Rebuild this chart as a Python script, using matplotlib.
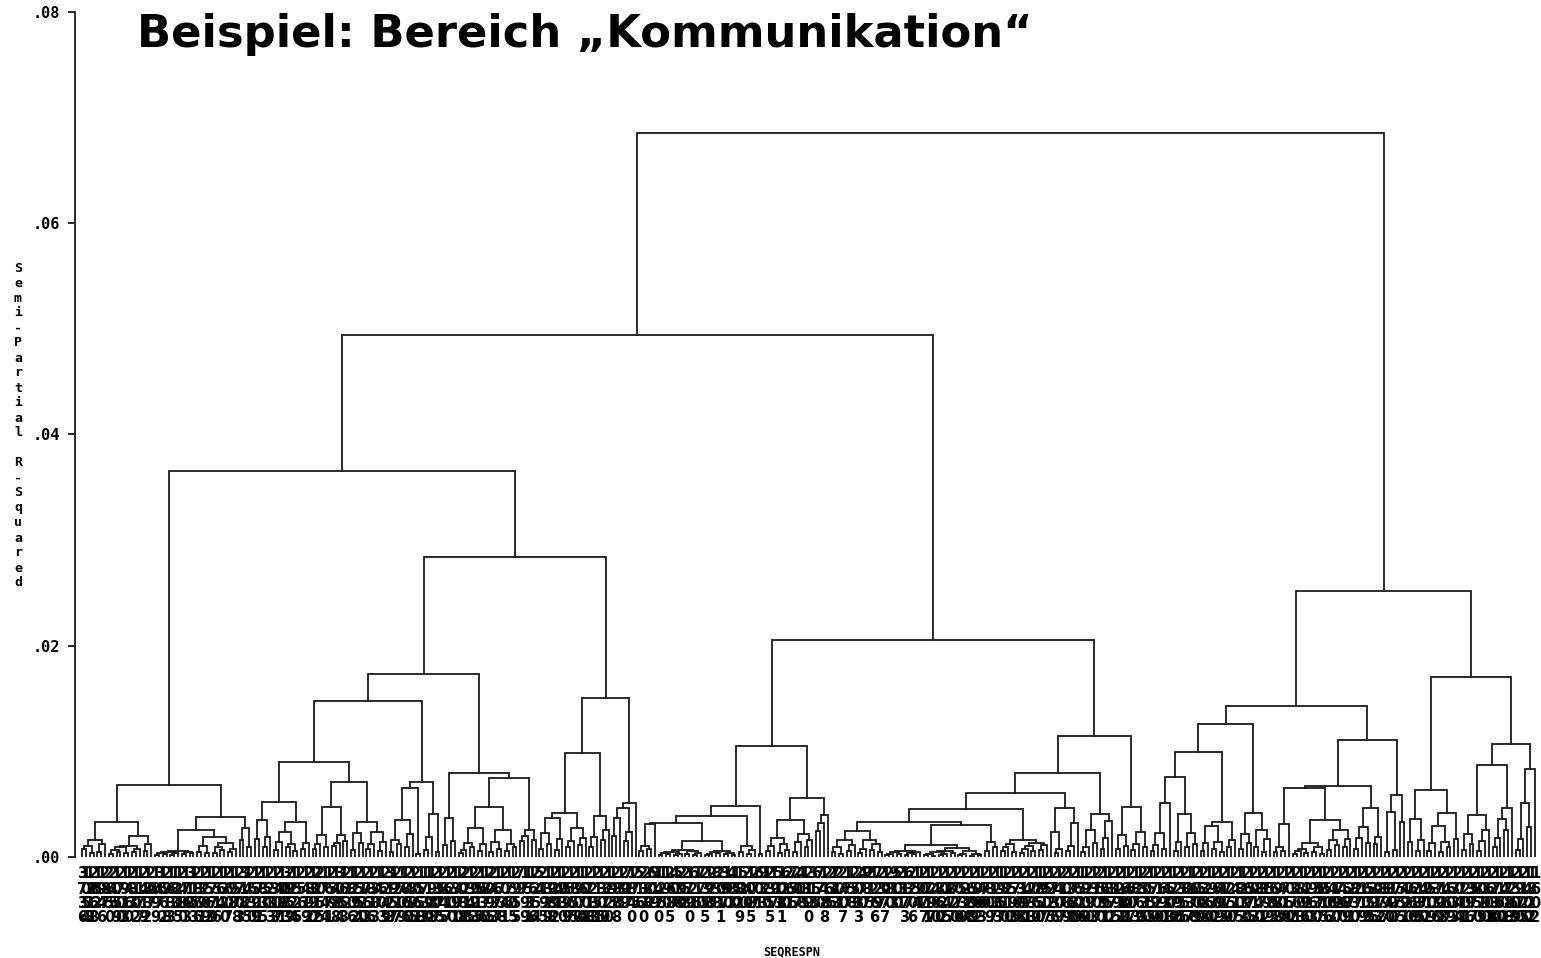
import matplotlib
matplotlib.use("Agg")
import matplotlib.pyplot as plt
from matplotlib.collections import LineCollection
from matplotlib import transforms

# ---------------- data: dendrogram (heights in units of 0.001 semi-partial R^2) ----------------
# notation: x = leaf, (left,right)h = merge at height h
A1 = "((((x,x)0.8,(x,x)0.4)1.0,((x,x)0.5,x)1.2)1.6,(((((x,x)0.3,(x,x)0.5)0.7,(x,x)0.4)0.9,((x,x)0.5,x)0.8)1.0,((x,x)0.6,x)1.2)2.0)3.3"
A2a = "(((((x,x)0.2,(x,x)0.3)0.4,((x,x)0.2,x)0.35)0.5,((x,x)0.3,(x,x)0.4)0.45)0.57,(((x,x)0.5,(x,x)0.4)1.0,(((x,x)0.4,(x,x)0.7)0.9,((x,x)0.5,x)0.8)1.3)1.9)2.6"
A2b = "((x,x)1.6,(x,x)0.9)2.7"

B1a_52 = "(((x,x)1.7,((x,x)0.9,x)1.9)3.5,((((x,x)0.7,x)1.4,((x,x)0.9,(x,x)0.6)1.2)2.4,((x,x)0.8,x)1.3)3.3)5.2"
B1a_71 = "(((((x,x)0.8,x)1.2,(x,x)0.9)2.1,(((x,x)1.0,x)1.3,(x,x)1.5)2.1)4.7,(((x,x)0.7,(x,x)1.3)2.3,(((x,x)0.8,x)1.2,((x,x)0.6,x)1.4)2.4)3.3)7.1"
B1a_r = "(((((x,x)0.5,(x,x)1.2)1.6,((x,x)0.9,x)2.2)3.5,(x,x)0.3)6.5,(((x,x)0.7,x)1.9,(x,x)0.5)4.1)7.1"
B1b = "(((x,x)1.1,(x,x)1.5)3.7,((((((x,x)0.4,x)0.7,(x,x)0.9)1.3,((x,x)0.6,x)1.2)2.7,(((x,x)0.5,(x,x)0.8)1.4,((x,x)0.6,(x,x)0.9)1.2)2.6)4.7,(((x,x)1.5,x)2.0,(x,x)1.6)2.6)7.5)8.0"
B2 = ("((((((x,x)0.8,(x,x)1.2)2.3,((x,x)0.7,x)1.7)3.7,(((x,x)0.9,x)1.5,((x,x)1.1,x)1.8)2.7)4.2,"
      "(((x,x)0.9,x)1.9,((x,x)1.6,x)2.6)3.9)9.8,((((x,x)2.0,x)3.7,((x,x)1.5,x)2.4)4.6,x)5.1)15.1")

LR_48 = ("((((((x,x)0.6,(x,x)0.8)1.0,x)3.1,(((((x,x)0.2,(x,x)0.3)0.4,((x,x)0.2,x)0.3)0.5,((x,x)0.3,((x,x)0.2,x)0.4)0.6)0.7,"
         "((((x,x)0.2,x)0.3,(x,x)0.4)0.5,((x,x)0.3,(x,x)0.2)0.4)0.6)1.5)3.2,((x,x)0.5,((x,x)0.3,x)0.7)1.0)3.9,(x,x)0.3)4.8")
LR_56 = "(((((x,x)0.6,x)1.0,((x,x)0.4,(x,x)0.7)1.2)1.8,(((x,x)0.5,x)1.4,((x,x)0.9,x)1.6)2.2)3.5,(((x,x)2.5,x)3.2,x)4.0)5.6"
LR_25 = "((((x,x)0.5,(x,x)0.3)0.9,((x,x)0.6,x)1.1)1.6,(((x,x)0.4,x)0.8,((x,x)0.7,(x,x)0.5)1.2)1.6)2.5"
LR_115 = ("(((((x,x)0.2,x)0.3,(x,x)0.3)0.45,(((x,x)0.2,(x,x)0.3)0.4,x)0.5)0.6,"
          "(((((x,x)0.2,(x,x)0.1)0.3,((x,x)0.2,x)0.3)0.45,(x,x)0.4)0.6,(((x,x)0.2,x)0.3,((x,x)0.1,(x,x)0.2)0.3)0.55)0.85)1.15")
LR_16 = "((((x,x)0.6,x)0.9,(x,x)0.5)1.2,((((x,x)0.4,x)0.8,(x,x)0.6)1.0,((x,x)0.7,x)1.1)1.3)1.6"
LR_46 = "((x,((x,x)0.4,x)0.8)2.4,(((x,x)0.6,x)1.0,x)3.2)4.6"
LR_41 = "((((x,x)0.5,x)0.9,(x,x)1.3)2.6,(((x,x)0.8,x)1.8,x)3.4)4.1"
LR_47 = "(((x,x)0.8,(x,x)1.0)2.1,(((x,x)0.7,x)1.2,(x,x)0.9)2.4)4.7"

R1_99 = "(((((x,x)0.6,x)1.1,(x,x)0.8)2.3,x)5.1,(((x,x)0.6,x)1.4,((x,x)0.9,(x,x)1.2)2.3)4.1)7.6"
R1_33 = "((((x,x)0.6,x)1.3,((x,x)0.8,(x,x)0.5)1.4)2.9,((x,x)0.9,x)1.6)3.3"
R1_42 = "(((x,x)0.8,(x,x)1.3)2.2,((x,x)0.9,((x,x)0.5,x)1.7)2.6)4.2"
R1_65 = ("((((x,x)0.5,(x,x)0.6)0.9,x)3.1,(((((x,x)0.3,x)0.6,(x,x)0.4)0.8,((x,x)0.5,(x,x)0.3)0.9)1.3,"
         "(((x,x)0.7,(x,x)1.1)1.6,((x,x)0.9,x)1.7)2.6)3.5)6.5")
R1_46 = "((((x,x)0.8,x)1.8,(x,x)1.3)2.8,((x,x)1.2,x)1.9)4.6"
R1_59 = "(((x,x)0.5,(x,x)0.7)4.3,(x,x)3.3)5.9"
R2_63 = "(((x,x)1.4,((x,x)0.6,x)1.6)3.6,((((x,x)0.6,x)1.3,((x,x)0.5,(x,x)0.9)1.4)2.9,(x,x)1.7)4.2)6.3"
R2_87 = "((((x,x)0.7,(x,x)1.2)2.2,(((x,x)0.6,x)1.5,x)2.6)4.0,((((x,x)0.9,x)1.8,(x,x)2.6)3.6,x)4.6)8.7"
R2_83 = "((((x,x)0.7,x)1.7,(x,x)2.8)5.1,x)8.3"

cluster_A = f"({A1},({A2a},{A2b})3.8)6.8"
cluster_B = f"(((({B1a_52},{B1a_71})9.0,{B1a_r})14.8,{B1b})17.3,{B2})28.4"
cluster_LR = (f"(({LR_48},{LR_56})10.5,((((({LR_25},({LR_115},((x,x)0.6,(x,x)0.9)1.4)3.0)3.3,{LR_16})4.5,"
              f"{LR_46})6.1,{LR_41})8.0,{LR_47})11.5)20.5")
cluster_R = f"(((({R1_99},{R1_33})9.9,{R1_42})12.6,(({R1_65},{R1_46})6.7,{R1_59})11.1)14.3,({R2_63},({R2_87},{R2_83})10.7)17.0)25.2"
tree_text = f"((({cluster_A},{cluster_B})36.5,{cluster_LR})49.4,{cluster_R})68.5"

leaf_ids = """
3736 1054 1318 2868 152 1946 287 2650 245 1059 2700 1913 1460 283 1102 1177 2419 1832 207 1099
347 1562 2918 1633 183 1215 2480 1763 318 1153 2866 1391 2209 1563 1779 2516 164 1320 2607 198
1578 2703 318 1425 2630 1599 2711 1835 150 2233 1313 2417 1081 3083 2959 1224 1525 256 1419 2892
1390 2212 2055 1744 1671 259 1488 3034 1653 212 1806 1292 2554 1120 2763 1836 2383 147 1603 2249
3128 1957 2217 1709 1866 2450 1395 2061 1558 1733 1190 1988 2307 1575 2845 1617 2200 1391 1470 2088
2218 1345 2993 2515 1536 1870 2095 2433 1677 1738 2041 175 1505 2955 79 1799 1531 1616 2254 54
2195 1329 1988 2292 141 1930 2599 1567 2855 1900 1670 1008 2718 1233 2151 1305 2370 1220 195 2888
135 299 727 1840 275 516 2330 288 602 919 1470 125 190 2685 407 538 290 258 1790 621
115 770 2355 198 225 838 2011 397 190 483 150 1829 520 240 1085 277 601 933 120 2355
197 513 1081 620 261 755 207 408 135 2190 313 655 770 1488 265 235 713 201 2407 177
158 253 2033 470 987 215 1266 729 237 1077 280 913 500 231 1173 637 2206 154 191 2077
1711 1297 2400 1860 2022 1345 2877 1720 2070 1530 2214 1688 2599 1902 1403 270 1809 2137 1233 1957
1810 2210 1593 2765 1308 2190 1471 2233 1060 1850 1917 2507 1225 2736 1409 2177 2089 1368 2780 1609
1526 1900 2290 1373 2107 2530 1691 1850 2372 1195 2233 1688 1401 2507 1873 1269 2335 2010 1555 1790
2120 1690 2431 1503 1770 2290 1355 2855 1237 1678 2009 1509 2388 1260 1930 2602 1499 2115 1770 1250
2417 1805 1233 2690 1575 2013 1840 2371 1192 2589 1655 1988 2409 1710 2050 1372 2261 1803 1496 2220
1963 2330 1577 1815 2506 1403 2190 1727 2460 1589 2271 1830 1277 2119 1609 2555 1395 2013 1872 2397
1340 2190 1777 2555 1491 2020 1660 2289 1135 2470 1912 1509 2336 1799 2128 1467 2609 1333 2044 1711
2201 1396 2577 1850 1019 2390 1603 2238 1730 1150 2402 1788 1263 2509 1970 2125 1400 1822 1602 2302
""".split()

y_ticks = [0.0, 0.02, 0.04, 0.06, 0.08]
y_tick_labels = [".00", ".02", ".04", ".06", ".08"]
title_text = "Beispiel: Bereich \u201eKommunikation\u201c"
y_label_text = "Semi-Partial R-Squared"
x_label_text = "SEQRESPN"


# ---------------- parse + layout ----------------
def parse(s):
    s = "".join(s.split())
    pos = 0

    def node():
        nonlocal pos
        if s[pos] == "x":
            pos += 1
            return None
        assert s[pos] == "(", (pos, s[pos - 10:pos + 10])
        pos += 1
        a = node()
        assert s[pos] == ",", (pos, s[pos - 10:pos + 10])
        pos += 1
        b = node()
        assert s[pos] == ")", (pos, s[pos - 10:pos + 10])
        pos += 1
        st = pos
        while pos < len(s) and (s[pos].isdigit() or s[pos] == "."):
            pos += 1
        return (float(s[st:pos]) * 1e-3, a, b)

    return node()


tree = parse(tree_text)
segments = []
counter = [0]


def layout(t):
    if t is None:
        x = counter[0]
        counter[0] += 1
        return x, 0.0
    h, a, b = t
    xa, ya = layout(a)
    xb, yb = layout(b)
    segments.append([(xa, ya), (xa, h), (xb, h), (xb, yb)])
    return (xa + xb) / 2.0, h


layout(tree)
N = counter[0]

# ---------------- figure ----------------
W, H = 1541, 958
fig = plt.figure(figsize=(W / 100, H / 100), dpi=100)
ax_left, ax_right, ax_top, ax_bot = 75, 1541, 12, 857
ax = fig.add_axes([ax_left / W, 1 - ax_bot / H, (ax_right - ax_left) / W, (ax_bot - ax_top) / H])

first_px, last_px = 82, 1535
pitch = (last_px - first_px) / (N - 1)
ax.set_xlim((ax_left - first_px) / pitch, (ax_right - first_px) / pitch)
ax.set_ylim(0, 0.08)

lc = LineCollection(segments, colors="#1a1a1a", linewidths=1.3, capstyle="projecting", joinstyle="miter")
ax.add_collection(lc)

for sp in ["top", "right", "bottom"]:
    ax.spines[sp].set_visible(False)
ax.spines["left"].set_linewidth(1.3)
ax.spines["left"].set_color("#1a1a1a")
ax.set_xticks([])
ax.set_yticks(y_ticks)
ax.set_yticklabels(y_tick_labels, fontfamily="DejaVu Sans Mono", fontweight="bold", fontsize=11)
ax.tick_params(axis="y", direction="out", length=5, width=1.3, color="#1a1a1a", pad=6)

mono = dict(fontfamily="DejaVu Sans Mono", fontweight="bold", color="black")

# leaf labels: each id written vertically, one digit per row
trans = transforms.blended_transform_factory(ax.transData, fig.transFigure)
row_px = [874, 889, 904, 918]
for i in range(N):
    lab = leaf_ids[i] if i < len(leaf_ids) else ""
    for r, ch in enumerate(lab[:4]):
        ax.text(i, 1 - row_px[r] / H, ch, transform=trans, ha="center", va="center",
                fontsize=10.5, fontfamily="DejaVu Sans", fontweight="bold", color="black",
                clip_on=False)

# x label
fig.text(792 / W, 1 - 952 / H, x_label_text, ha="center", va="center", fontsize=8.5, **mono)

# y label: stacked characters
y0, dy = 268, 15.0
for k, ch in enumerate(y_label_text):
    if ch != " ":
        fig.text(18 / W, 1 - (y0 + k * dy) / H, ch, ha="center", va="center", fontsize=9.5, **mono)

# title
fig.text(137 / W, 1 - 47 / H, title_text, ha="left", va="baseline", fontsize=32.3,
         fontfamily="DejaVu Sans", fontweight="bold", color="black")

fig.savefig("out.png", dpi=100, facecolor="white")
print("leaves", N, "ids", len(leaf_ids), "pitch", pitch)
